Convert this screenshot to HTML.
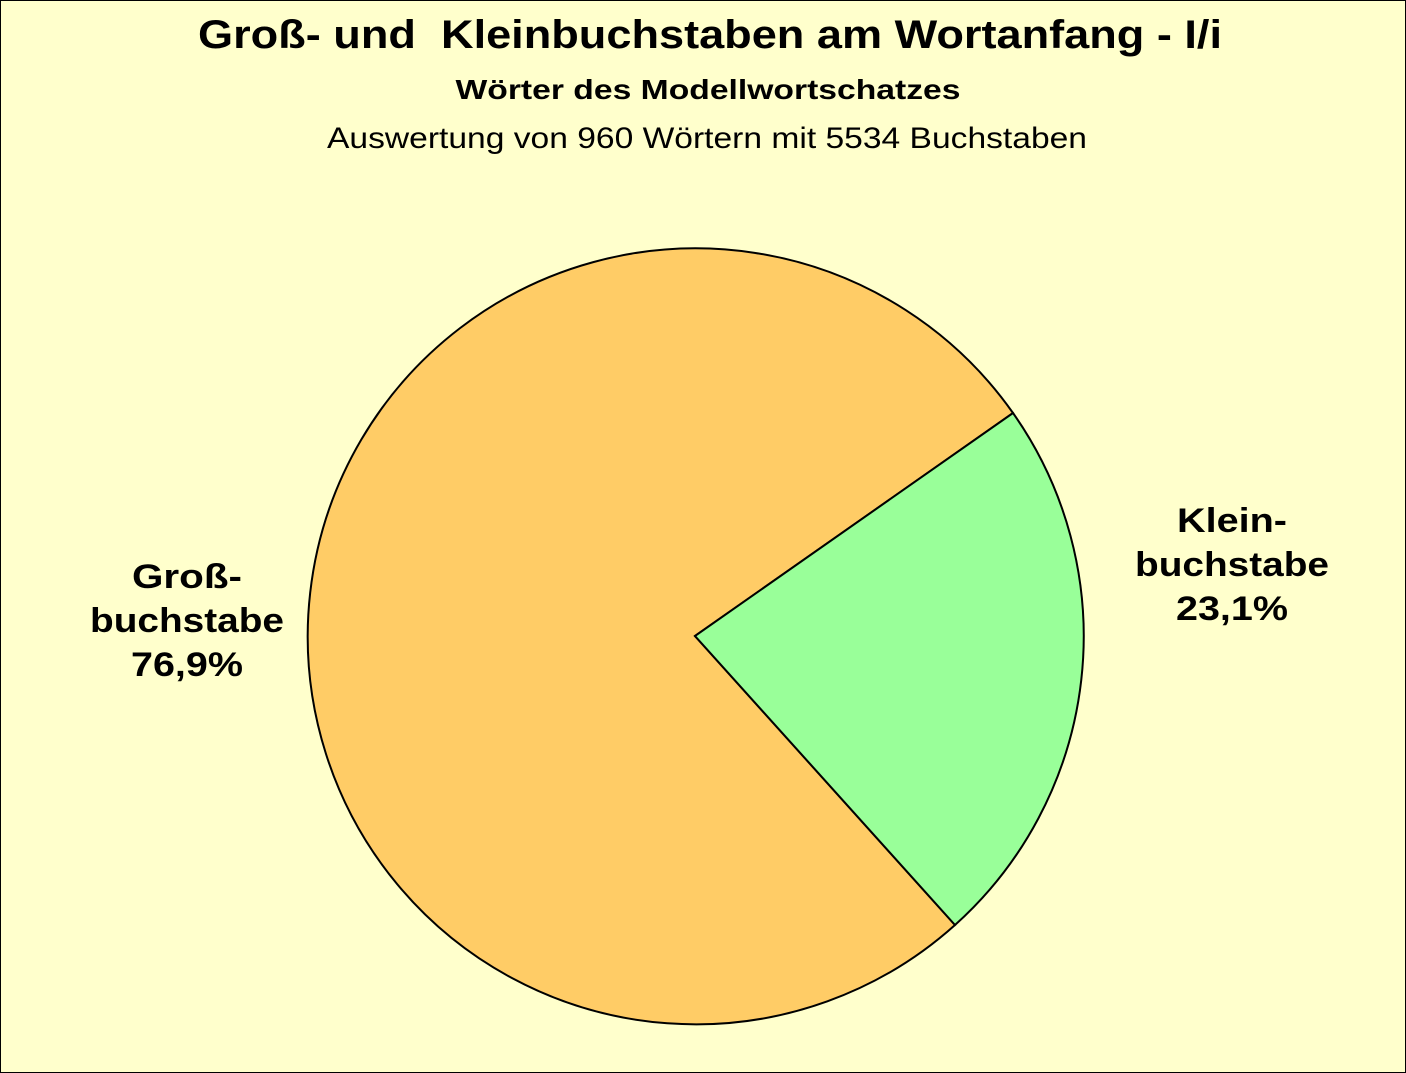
<!DOCTYPE html>
<html><head><meta charset="utf-8"><style>
html,body{margin:0;padding:0;background:#FFFFCC;}
svg{display:block;}
</style></head><body>
<svg width="1406" height="1073" xmlns="http://www.w3.org/2000/svg" font-family="Liberation Sans, Arial, sans-serif">
<rect x="0.5" y="0.5" width="1405" height="1072" fill="#FFFFCC" stroke="#000" stroke-width="1"/>
<text x="710" y="48" text-anchor="middle" font-size="40" font-weight="bold" textLength="1024" lengthAdjust="spacingAndGlyphs" xml:space="preserve">Groß- und  Kleinbuchstaben am Wortanfang - I/i</text>
<text x="708" y="99" text-anchor="middle" font-size="28" font-weight="bold" textLength="505" lengthAdjust="spacingAndGlyphs">Wörter des Modellwortschatzes</text>
<text x="707" y="148" text-anchor="middle" font-size="30" textLength="760" lengthAdjust="spacingAndGlyphs">Auswertung von 960 Wörtern mit 5534 Buchstaben</text>
<path d="M695,636 L1013,413 A388,388 0 1 0 955,925 Z" fill="#FFCC66" stroke="#000" stroke-width="2"/>
<path d="M695,636 L1013,413 A388,388 0 0 1 955,925 Z" fill="#99FF99" stroke="#000" stroke-width="2"/>
<g font-size="34" font-weight="bold" text-anchor="middle">
<text x="187" y="588" textLength="110" lengthAdjust="spacingAndGlyphs">Groß-</text>
<text x="187" y="632" textLength="194" lengthAdjust="spacingAndGlyphs">buchstabe</text>
<text x="187" y="676" textLength="112" lengthAdjust="spacingAndGlyphs">76,9%</text>
<text x="1232" y="532" textLength="110" lengthAdjust="spacingAndGlyphs">Klein-</text>
<text x="1232" y="576" textLength="194" lengthAdjust="spacingAndGlyphs">buchstabe</text>
<text x="1232" y="620" textLength="112" lengthAdjust="spacingAndGlyphs">23,1%</text>
</g>
</svg>
</body></html>
